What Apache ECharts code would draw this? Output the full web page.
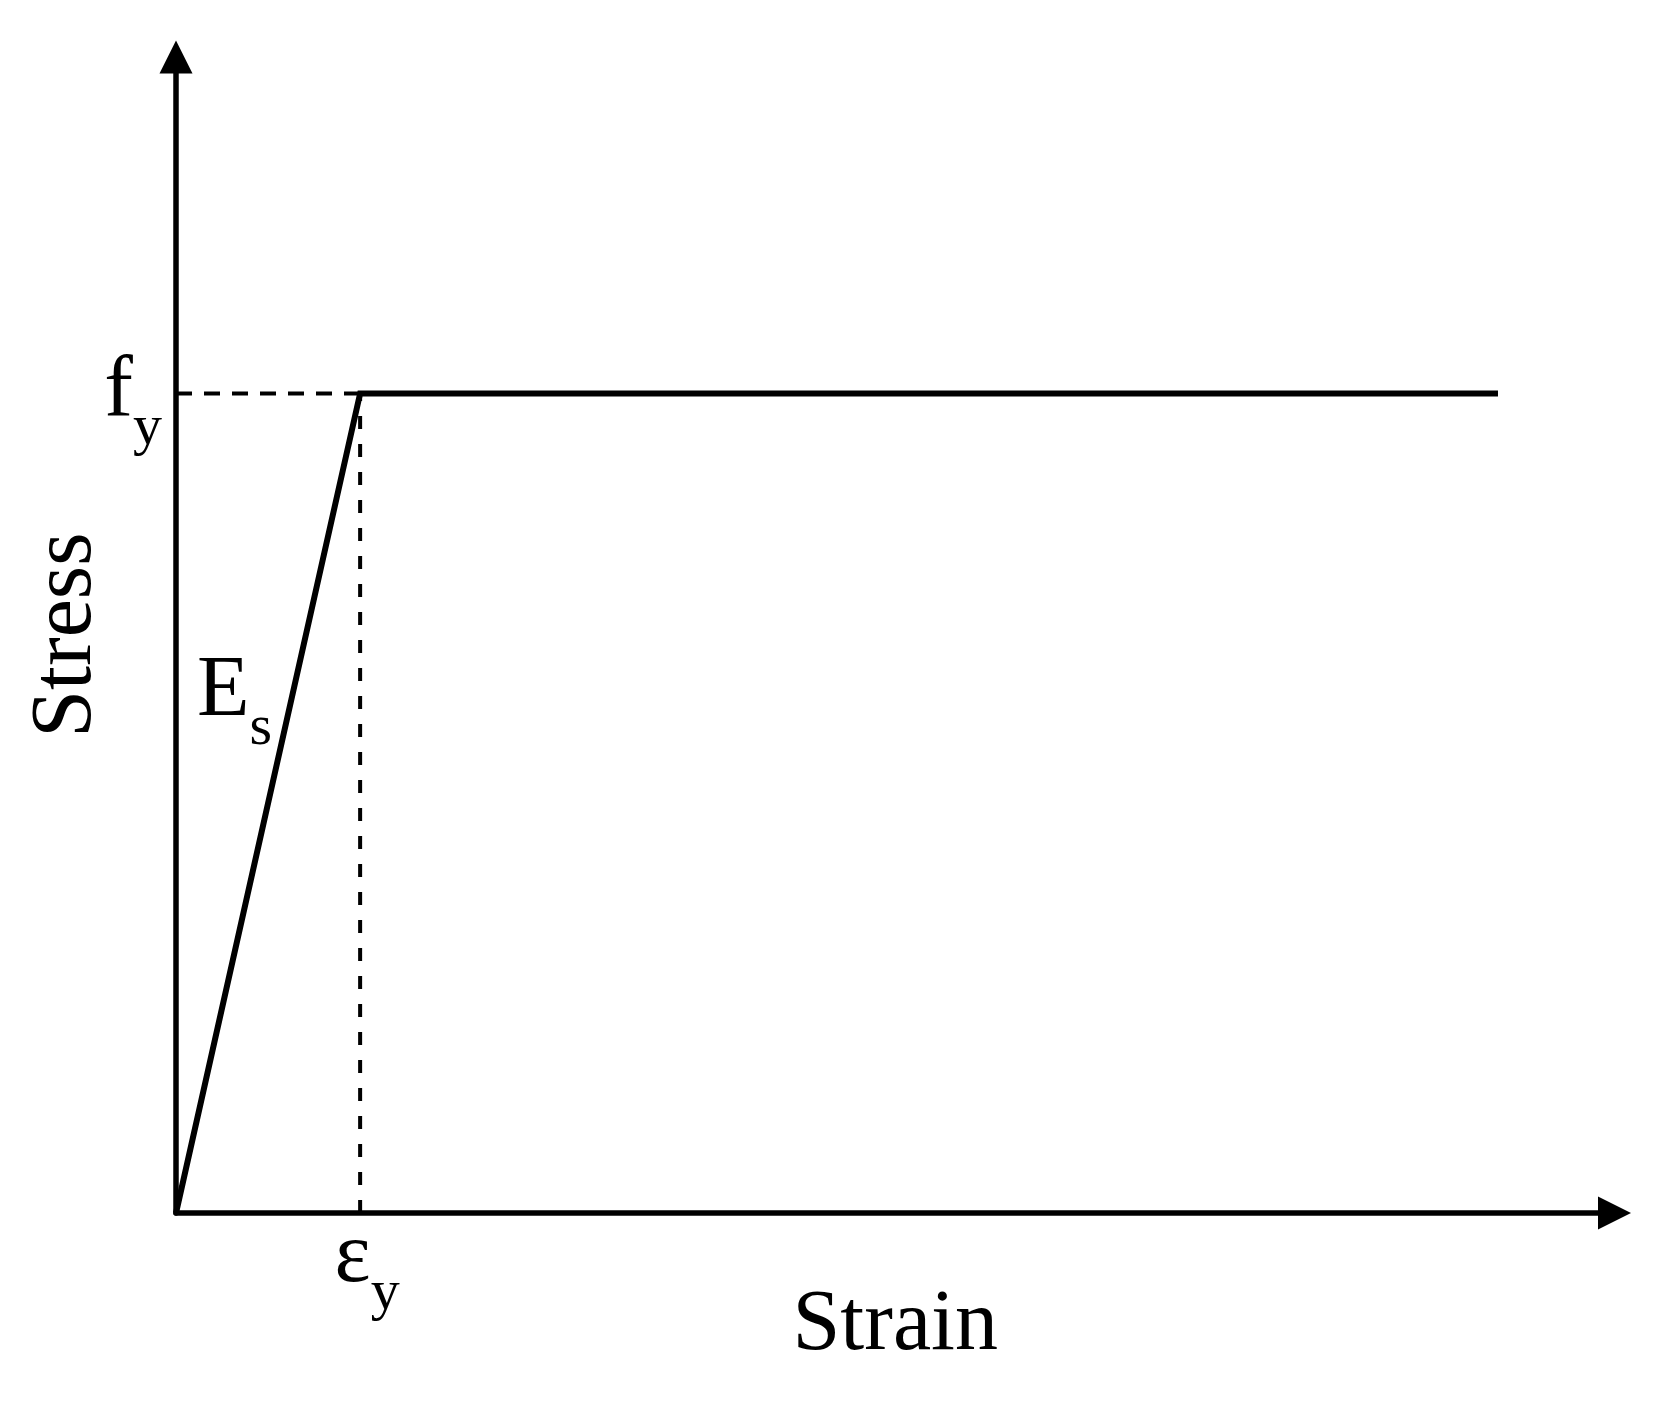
<!DOCTYPE html>
<html>
<head>
<meta charset="utf-8">
<script src="https://cdn.jsdelivr.net/npm/echarts@6/dist/echarts.min.js"></script>
<style>
html,body{margin:0;padding:0;background:#fff;}
#c{width:1668px;height:1402px;}
</style>
</head>
<body>
<div id="c"></div>
<script>
var strainValues = [0, 12.8, 91.9];
var stressValues = [0, 70.9, 70.9];
var yieldStrain = 12.8;
var yieldStress = 70.9;
var axisMax = 100;
var xAxisName = 'Strain';
var yAxisName = 'Stress';
var esLabelPos = [1.46, 39.4];

var FONT = '"Liberation Serif", "Times New Roman", serif';
var chart = echarts.init(document.getElementById('c'), null, {renderer: 'canvas'});

var mainData = strainValues.map(function (x, i) { return [x, stressValues[i]]; });

function subRich(padLeft) {
  return {
    a: {fontFamily: FONT, fontSize: 86, lineHeight: 86, color: '#000', verticalAlign: 'bottom', padding: [0, 0, 22, padLeft || 0]},
    b: {fontFamily: FONT, fontSize: 58, lineHeight: 58, color: '#000', verticalAlign: 'bottom'}
  };
}

var option = {
  backgroundColor: '#ffffff',
  animation: false,
  grid: {left: 176, top: 57, right: 53.5, bottom: 189, containLabel: false, outerBoundsMode: 'none'},
  xAxis: {
    type: 'value', min: 0, max: axisMax,
    name: xAxisName, nameLocation: 'middle', nameGap: 70, nameMoveOverlap: false,
    nameTextStyle: {fontFamily: FONT, fontSize: 86, color: '#000'},
    axisLine: {show: true, symbol: ['none', 'triangle'], symbolSize: [33, 33],
      lineStyle: {color: '#000', width: 5.5}},
    axisTick: {show: false},
    splitLine: {show: false},
    axisLabel: {
      show: true, customValues: [yieldStrain], margin: 24,
      formatter: function () { return '{a|ε}{b|y}'; },
      rich: subRich(14)
    }
  },
  yAxis: {
    type: 'value', min: 0, max: axisMax,
    name: yAxisName, nameLocation: 'middle', nameGap: 66, nameRotate: 90, nameMoveOverlap: false,
    nameTextStyle: {fontFamily: FONT, fontSize: 86, color: '#000'},
    axisLine: {show: true, symbol: ['none', 'triangle'], symbolSize: [33, 33],
      lineStyle: {color: '#000', width: 5.5}},
    axisTick: {show: false},
    splitLine: {show: false},
    axisLabel: {
      show: true, customValues: [yieldStress], margin: 14,
      verticalAlign: 'middle', padding: [42, 0, 0, 0],
      formatter: function () { return '{a|f}{b|y}'; },
      rich: subRich(0)
    }
  },
  series: [
    {
      type: 'line', data: [[0, yieldStress], [yieldStrain, yieldStress]],
      symbol: 'none', z: 1,
      lineStyle: {color: '#000', width: 4, type: [16, 12]}
    },
    {
      type: 'line', data: [[yieldStrain, 0], [yieldStrain, yieldStress]],
      symbol: 'none', z: 1,
      lineStyle: {color: '#000', width: 4, type: [13, 15]}
    },
    {
      type: 'line', data: mainData, symbol: 'none', z: 3,
      lineStyle: {color: '#000', width: 6, cap: 'butt', join: 'miter'}
    },
    {
      type: 'scatter', data: [esLabelPos], symbolSize: 0, z: 4,
      itemStyle: {opacity: 1},
      label: {
        show: true, position: 'inside', align: 'left', verticalAlign: 'bottom', opacity: 1,
        formatter: '{a|E}{b|s}',
        rich: subRich(0)
      }
    }
  ]
};
chart.setOption(option);
</script>
</body>
</html>
